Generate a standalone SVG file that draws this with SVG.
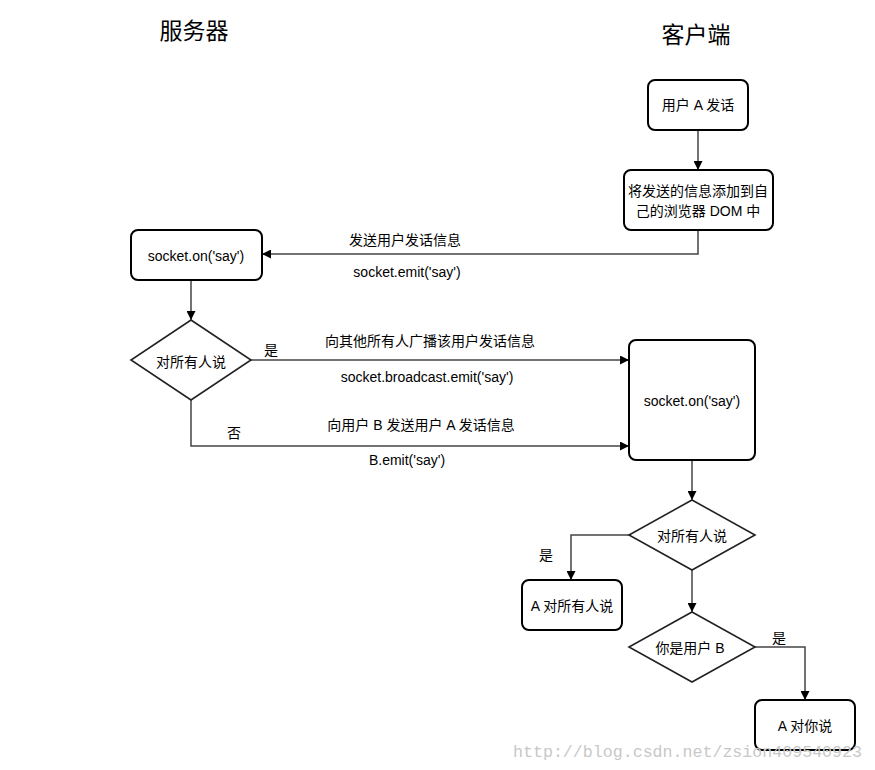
<svg xmlns="http://www.w3.org/2000/svg" width="875" height="770" viewBox="0 0 875 770">
<defs>
<marker id="ah" viewBox="0 0 10 10" refX="10" refY="5" markerWidth="9" markerHeight="9" markerUnits="userSpaceOnUse" orient="auto">
<path d="M0,0 L10,5 L0,10 z" fill="#000"/>
</marker>
</defs>
<style>
.box{fill:#fff;stroke:#000;stroke-width:2}
.dia{fill:#fff;stroke:#222;stroke-width:1.6}
.edge{fill:none;stroke:#444;stroke-width:1.5;marker-end:url(#ah)}
text{font-family:"Liberation Sans","Noto Sans CJK SC",sans-serif;font-size:14px;fill:#000}
.t{text-anchor:middle;dominant-baseline:central}
.h{font-family:"Noto Sans CJK SC","Noto Sans CJK JP",serif;font-size:23px}
.wm{font-family:"Liberation Mono","DejaVu Sans Mono",monospace;font-size:17px;fill:#c8c8c8}
</style>
<rect width="875" height="770" fill="#fff"/>
<text class="h t" x="194" y="29">服务器</text>
<text class="h t" x="696" y="33">客户端</text>

<g id="connectors">
<path class="edge" d="M698,130 L698,170"/>
<path class="edge" d="M698,230 L698,254 L262,254"/>
<path class="edge" d="M191,280 L191,320"/>
<path class="edge" d="M251,360 L629,360"/>
<path class="edge" d="M191,400 L191,446 L629,446"/>
<path class="edge" d="M692,460 L692,500"/>
<path class="edge" d="M629,535 L571,535 L571,580"/>
<path class="edge" d="M692,570 L692,612"/>
<path class="edge" d="M755,647 L805,647 L805,700"/>
<text class="t" x="405" y="240">发送用户发话信息</text>
<text class="t" x="407" y="272">socket.emit('say')</text>
<text class="t" x="271" y="350">是</text>
<text class="t" x="430" y="341">向其他所有人广播该用户发话信息</text>
<text class="t" x="427" y="377">socket.broadcast.emit('say')</text>
<text class="t" x="234" y="433">否</text>
<text class="t" x="421" y="425">向用户 B 发送用户 A 发话信息</text>
<text class="t" x="407" y="460">B.emit('say')</text>
<text class="t" x="546" y="555">是</text>
<text class="t" x="779" y="638">是</text>
</g>

<g id="userA">
<rect class="box" x="648" y="80" width="100" height="50" rx="7"/>
<text class="t" x="698" y="105">用户 A 发话</text>
</g>
<g id="addDom">
<rect class="box" x="624" y="170" width="149" height="60" rx="7"/>
<text class="t" x="698" y="191">将发送的信息添加到自</text>
<text class="t" x="698" y="211">己的浏览器 DOM 中</text>
</g>
<g id="serverOn">
<rect class="box" x="131" y="230" width="131" height="50" rx="7"/>
<text class="t" x="196" y="256">socket.on('say')</text>
</g>
<g id="serverDecision">
<polygon class="dia" points="191,320 251,360 191,400 131,360"/>
<text class="t" x="191" y="362">对所有人说</text>
</g>
<g id="clientOn">
<rect class="box" x="629" y="340" width="126" height="120" rx="7"/>
<text class="t" x="692" y="401">socket.on('say')</text>
</g>
<g id="clientDecision">
<polygon class="dia" points="692,500 755,535 692,570 629,535"/>
<text class="t" x="692" y="536">对所有人说</text>
</g>
<g id="aToAll">
<rect class="box" x="522" y="580" width="100" height="50" rx="7"/>
<text class="t" x="572" y="606">A 对所有人说</text>
</g>
<g id="isUserB">
<polygon class="dia" points="692,612 755,647 692,682 629,647"/>
<text class="t" x="690" y="648">你是用户 B</text>
</g>
<g id="aToYou">
<rect class="box" x="755" y="700" width="100" height="50" rx="7"/>
<text class="t" x="805" y="726">A 对你说</text>
</g>
<text class="wm" x="513" y="757" textLength="349" lengthAdjust="spacingAndGlyphs">http://blog.csdn.net/zsion409540923</text>
</svg>
